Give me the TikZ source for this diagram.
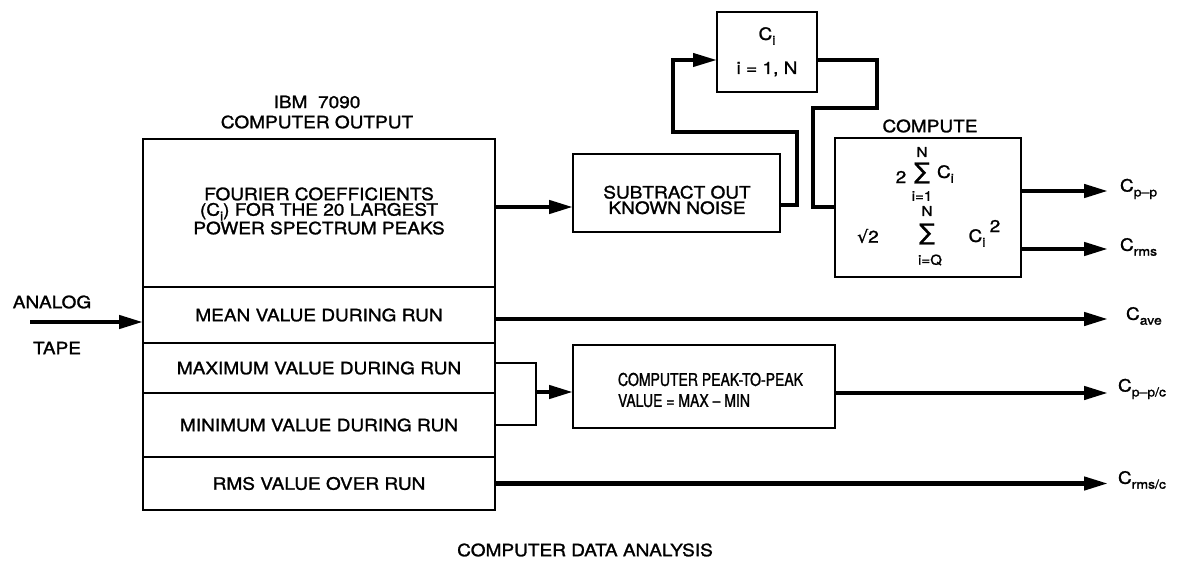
\documentclass[tikz,border=0pt]{standalone}
\usepackage{fontspec}
\setmainfont{TeX Gyre Heros}[FakeStretch=1.12,FakeBold=1.3]
\newfontfamily\condf{TeX Gyre Heros}[FakeStretch=0.8,FakeBold=1.3]
\newfontfamily\symf{DejaVu Sans}[FakeBold=1.5]
\usetikzlibrary{arrows.meta}
\newcommand\sbs[1]{\raisebox{-0.55ex}{\fontsize{12.5}{12.5}\selectfont #1}}
\begin{document}
\begin{tikzpicture}[x=1pt,y=-1pt,
  every node/.style={font=\fontsize{17}{15.5}\selectfont, inner sep=0pt, outer sep=0pt},
  box/.style={draw, line width=2.6pt},
  wire/.style={line width=4pt},
  thinwire/.style={line width=2.8pt},
  arr/.style={line width=4.4pt, -{Triangle[length=24pt,width=13pt]}},
  small/.style={font=\fontsize{13.5}{13.5}\selectfont},
  sig/.style={font=\symf\fontsize{23}{23}\selectfont}]
\useasboundingbox (0,0) rectangle (1190,569);

% left computer output box
\node[box, minimum width=352pt, minimum height=148pt] (four) at (319,213) {};
\node[align=center] (fourtxt) at (319,211) {FOURIER COEFFICIENTS\\(C\sbs{i}) FOR THE 20 LARGEST\\POWER SPECTRUM PEAKS};
\node[box, minimum width=352pt, minimum height=56pt] (mean) at (319,315) {MEAN VALUE DURING RUN};
\node[box, minimum width=352pt, minimum height=50pt] (max) at (319,368) {MAXIMUM VALUE DURING RUN};
\node[box, minimum width=352pt, minimum height=64pt] (min) at (319,425) {MINIMUM VALUE DURING RUN};
\node[box, minimum width=352pt, minimum height=53pt] (rms) at (319,483.5) {RMS VALUE OVER RUN};
\node (ibm) at (317,102) {IBM\ \ 7090};
\node (cout) at (317,122) {COMPUTER OUTPUT};

% analog tape
\node (analog) at (52,302) {ANALOG};
\node (tapel) at (57,348) {TAPE};
\coordinate (tape) at (30,322);
\draw[arr] (tape) -- (tape -| mean.west);

% subtract box
\node[box, minimum width=207pt, minimum height=78pt] (sub) at (676.5,193) {};
\node[align=center] (subtxt) at (677,200) {SUBTRACT OUT\\KNOWN NOISE};

% Ci box
\node[box, minimum width=100pt, minimum height=80pt] (ci) at (767,52) {};
\node (citxt) at (767,36) {C\sbs{i}};
\node (cirange) at (767,69) {i = 1, N};

% compute box
\node[box, minimum width=186pt, minimum height=139pt] (comp) at (928,207.5) {};
\node (complab) at (930,126) {COMPUTE};
\node (two) at (901,177) {2};
\node[sig] (sum1) at (922,173) {∑};
\node[small] (n1) at (922,152) {N};
\node[small] (i1) at (922,196) {i=1};
\node[anchor=west] (c1) at (937,174) {C\sbs{i}};
\node (sq) at (868,236) {{\symf √}2};
\node[small] (n2) at (927,211) {N};
\node[sig] (sum2) at (927,234) {∑};
\node[small] (iq) at (930,260) {i=Q};
\node (c2) at (977,238) {C\sbs{i}};
\node (sq2) at (995,226) {2};

% peak box
\node[box, minimum width=262pt, minimum height=83pt] (peak) at (704,386.5) {};
\node[anchor=west, align=left, font=\condf\fontsize{17.5}{21}\selectfont] (peaktxt) at (618,390) {COMPUTER PEAK-TO-PEAK\\VALUE = MAX – MIN};

% connectors
\coordinate (e) at (1108,0);
\draw[arr] ([yshift=6pt]four.east) -- ([yshift=6pt]four.east -| sub.west);
\coordinate (l1) at (797,132);
\coordinate (l2) at (673,60);
\draw[wire, -{Triangle[length=24pt,width=13pt]}] ([yshift=-12pt]sub.east) -| (l1) -| (l2) -- (l2 -| ci.west);
\coordinate (r1) at (877,108);
\coordinate (r2) at (813,207.5);
\draw[wire] ([yshift=-8pt]ci.east) -| (r1) -| (r2) -- (comp.west);
\draw[arr] ([yshift=16.5pt]comp.east) -- ([yshift=16.5pt]comp.east -| e);
\draw[arr] ([yshift=-41.5pt]comp.east) -- ([yshift=-41.5pt]comp.east -| e);
\draw[arr] ([yshift=-4pt]mean.east) -- ([yshift=-4pt]mean.east -| e);
\coordinate (bk) at (536,392);
\draw[thinwire] ([yshift=5pt]max.east) -| (bk) |- (min.east);
\draw[arr] (bk) -- (bk -| peak.west);
\draw[arr] ([yshift=-6.5pt]peak.east) -- ([yshift=-6.5pt]peak.east -| e);
\draw[arr] (rms.east) -- (rms.east -| e);

% output labels
\node[anchor=west] (opp) at (1120,189) {C\sbs{p–p}};
\node[anchor=west] (orms) at (1120,247) {C\sbs{rms}};
\node[anchor=west] (oave) at (1126,316) {C\sbs{ave}};
\node[anchor=west] (oppc) at (1118,389) {C\sbs{p–p/c}};
\node[anchor=west] (ormsc) at (1118,480) {C\sbs{rms/c}};

% caption
\node (caption) at (585,550) {COMPUTER DATA ANALYSIS};
\end{tikzpicture}
\end{document}
